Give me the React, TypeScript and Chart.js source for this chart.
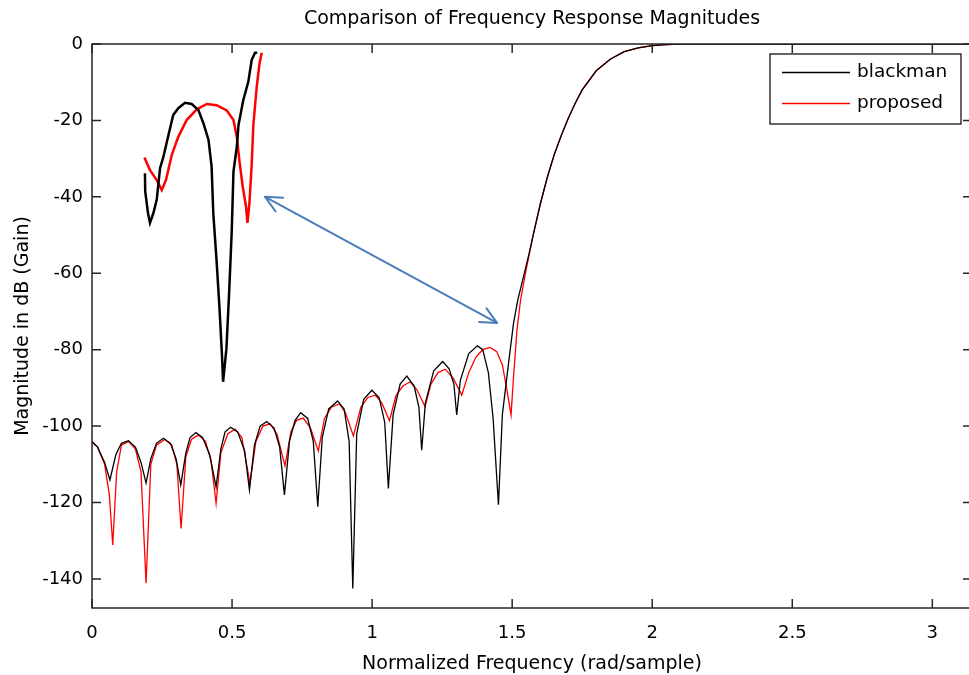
import React, { useEffect, useRef } from 'react';
import { Chart, registerables } from 'chart.js';

Chart.register(...registerables);

const FONT = "'DejaVu Sans', 'Liberation Sans', sans-serif";

const chartTitle = 'Comparison of Frequency Response Magnitudes';
const xAxisTitle = 'Normalized Frequency (rad/sample)';
const yAxisTitle = 'Magnitude in dB (Gain)';

const xTicks = [0, 0.5, 1, 1.5, 2, 2.5, 3];
const yTicks = [0, -20, -40, -60, -80, -100, -120, -140];
const xMin = 0;
const xMax = Math.PI;
const yMin = -147.6;
const yMax = 0;

const legendLabels = ['blackman', 'proposed'];

// Main curve: blackman window
const blackmanX = [
  0, 0.02, 0.045, 0.064, 0.085, 0.105, 0.13, 0.155, 0.175, 0.193, 0.21, 0.23, 0.255,
  0.28, 0.3, 0.317, 0.335, 0.35, 0.371, 0.395, 0.42, 0.443, 0.46, 0.475, 0.495, 0.52,
  0.545, 0.562, 0.58, 0.6, 0.624, 0.65, 0.67, 0.687, 0.705, 0.725, 0.745, 0.77, 0.79,
  0.806, 0.822, 0.845, 0.877, 0.9, 0.918, 0.931, 0.945, 0.97, 0.999, 1.025, 1.045, 1.058,
  1.075, 1.1, 1.124, 1.15, 1.167, 1.177, 1.19, 1.22, 1.252, 1.275, 1.292, 1.302, 1.315,
  1.345, 1.376, 1.395, 1.415, 1.432, 1.451, 1.465, 1.487, 1.505, 1.52, 1.54, 1.56, 1.575,
  1.6, 1.625, 1.65, 1.675, 1.7, 1.725, 1.75, 1.8, 1.85, 1.9, 1.95, 2.0, 2.05, 2.1, 3.1416,
];
const blackmanY = [
  -104.1, -105.5, -109.5, -114.1, -107.5, -104.5, -103.8, -105.5, -109.5, -114.9, -108.5, -104.5, -103.2,
  -104.5, -108.5, -115.4, -107, -103, -101.7, -103, -107.5, -115.9, -106, -101.5, -100.3, -101.5,
  -106.5, -116.7, -105, -100, -98.8, -100.5, -105.5, -118.0, -104, -98.5, -96.5, -98, -104,
  -121.1, -103, -95.5, -93.4, -95.5, -104, -142.5, -102, -93, -90.6, -92.5, -99, -116.3,
  -97, -89, -86.9, -89.5, -95, -106.3, -94, -85.5, -83.1, -85, -89, -97.1, -88,
  -81, -79.0, -80, -86, -98, -120.6, -97, -83.6, -73, -67, -61, -55, -50,
  -42, -35, -29, -24, -19.5, -15.5, -12, -7, -4, -2, -1, -0.4, -0.15, 0, 0,
];

// Main curve: proposed window
const proposedX = [
  0, 0.02, 0.045, 0.062, 0.074, 0.088, 0.105, 0.13, 0.155, 0.175, 0.193, 0.21, 0.23, 0.26,
  0.285, 0.303, 0.318, 0.335, 0.355, 0.38, 0.405, 0.425, 0.443, 0.46, 0.485, 0.511, 0.535,
  0.564, 0.585, 0.61, 0.636, 0.66, 0.689, 0.71, 0.73, 0.754, 0.78, 0.808, 0.83, 0.855,
  0.883, 0.905, 0.933, 0.96, 0.985, 1.011, 1.035, 1.062, 1.085, 1.11, 1.136, 1.16, 1.189,
  1.21, 1.235, 1.261, 1.29, 1.32, 1.345, 1.37, 1.395, 1.421, 1.445, 1.465, 1.48, 1.496,
  1.505, 1.517, 1.53, 1.55, 1.575, 1.6, 1.625, 1.65, 1.675, 1.7, 1.725, 1.75, 1.8, 1.85,
  1.9, 1.95, 2.0, 2.05, 2.1, 3.1416,
];
const proposedY = [
  -104.1, -105.5, -110, -118, -131.1, -112, -105, -104, -106, -112, -141.1, -110, -105, -103.5,
  -105, -110, -126.8, -108, -103.5, -102.3, -104, -109, -120.2, -107, -102, -100.8, -103,
  -115.0, -104, -100, -99.4, -102, -110.4, -101.5, -98.5, -97.9, -100.5, -106.5, -98, -95,
  -94.2, -96.5, -102.6, -95, -92.5, -91.9, -94, -98.6, -92, -89.5, -88.4, -90.5, -94.9,
  -89, -86, -85.1, -87.5, -91.9, -86, -82, -80, -79.4, -80.5, -84, -90, -97.1,
  -87, -74.9, -67, -59, -50, -42, -35, -29, -24, -19.5, -15.5, -12, -7, -4,
  -2, -1, -0.4, -0.15, 0, 0,
];

// Inset (magnified copy of the last side-lobes)
const insetBlackX = [
  0.189, 0.19, 0.2, 0.207, 0.219, 0.231, 0.243, 0.255, 0.273, 0.29, 0.308, 0.332, 0.356,
  0.38, 0.398, 0.416, 0.427, 0.433, 0.445, 0.455, 0.464, 0.468, 0.48, 0.49, 0.499, 0.505,
  0.517, 0.523, 0.54, 0.558, 0.57, 0.582, 0.59,
];
const insetBlackY = [
  -33.8, -38.6, -44.3, -46.8, -44.3, -40.8, -32.5, -29.5, -23.8, -18.6, -16.8, -15.4, -15.7,
  -17.3, -20.8, -25.1, -32.1, -44.3, -57, -69, -81.4, -88.4, -79.6, -64.4, -48.7, -33.4,
  -26.9, -21.2, -14.7, -9.9, -4.2, -2.3, -2.3,
];
const insetRedX = [
  0.187, 0.207, 0.231, 0.249, 0.264, 0.285, 0.308, 0.338, 0.374, 0.41, 0.445, 0.481, 0.505,
  0.517, 0.526, 0.538, 0.55, 0.555, 0.562, 0.57, 0.576, 0.588, 0.598, 0.606,
];
const insetRedY = [
  -29.7, -33.0, -35.6, -38.2, -35.6, -29.0, -24.3, -19.9, -17.1, -15.7, -16.0, -17.4, -19.9,
  -24.3, -30.4, -37.3, -42.6, -46.8, -41.7, -31.7, -21.2, -11.2, -5.1, -2.3,
];

// Double-headed arrow annotation (data coordinates)
const arrowFrom = [0.618, -40.0];
const arrowTo = [1.446, -73.0];

const toPoints = (xs: number[], ys: number[]) => xs.map((x, i) => ({ x, y: ys[i] }));

const overlayPlugin = {
  id: 'overlay',
  afterDatasetsDraw(chart: any) {
    const { ctx, scales } = chart;
    const xs = scales.x;
    const ys = scales.y;
    const x1 = xs.getPixelForValue(arrowFrom[0]);
    const y1 = ys.getPixelForValue(arrowFrom[1]);
    const x2 = xs.getPixelForValue(arrowTo[0]);
    const y2 = ys.getPixelForValue(arrowTo[1]);
    ctx.save();
    ctx.strokeStyle = '#4A7EBB';
    ctx.lineWidth = 2;
    ctx.lineCap = 'round';
    ctx.lineJoin = 'round';
    ctx.beginPath();
    ctx.moveTo(x1, y1);
    ctx.lineTo(x2, y2);
    ctx.stroke();
    const head = (tx: number, ty: number, fx: number, fy: number) => {
      const ang = Math.atan2(ty - fy, tx - fx);
      const len = 18;
      const spread = 0.45;
      ctx.beginPath();
      ctx.moveTo(tx - len * Math.cos(ang - spread), ty - len * Math.sin(ang - spread));
      ctx.lineTo(tx, ty);
      ctx.lineTo(tx - len * Math.cos(ang + spread), ty - len * Math.sin(ang + spread));
      ctx.stroke();
    };
    head(x1, y1, x2, y2);
    head(x2, y2, x1, y1);
    ctx.restore();
  },
  afterDraw(chart: any) {
    const { ctx, chartArea, scales } = chart;
    const { left, right, top, bottom } = chartArea;
    ctx.save();
    // axes box
    ctx.strokeStyle = '#262626';
    ctx.lineWidth = 1.5;
    ctx.strokeRect(left, top, right - left, bottom - top);
    // inward ticks
    const tl = 9;
    ctx.beginPath();
    xTicks.forEach((v) => {
      const px = scales.x.getPixelForValue(v);
      ctx.moveTo(px, bottom);
      ctx.lineTo(px, bottom - tl);
      ctx.moveTo(px, top);
      ctx.lineTo(px, top + tl);
    });
    yTicks.forEach((v) => {
      const py = scales.y.getPixelForValue(v);
      ctx.moveTo(left, py);
      ctx.lineTo(left + tl, py);
      ctx.moveTo(right, py);
      ctx.lineTo(right - tl, py);
    });
    ctx.stroke();

    // legend
    const bw = 191;
    const bh = 70;
    const bx = right - 11 - bw;
    const by = top + 10;
    ctx.fillStyle = '#ffffff';
    ctx.fillRect(bx, by, bw, bh);
    ctx.strokeStyle = '#000000';
    ctx.lineWidth = 1.2;
    ctx.strokeRect(bx, by, bw, bh);
    const colors = [chart.data.datasets[0].borderColor, chart.data.datasets[1].borderColor];
    ctx.font = `18.5px ${FONT}`;
    ctx.textBaseline = 'middle';
    ctx.textAlign = 'left';
    legendLabels.forEach((lab, i) => {
      const ly = by + 18.5 + i * 31;
      ctx.strokeStyle = colors[i];
      ctx.lineWidth = 1.3;
      ctx.beginPath();
      ctx.moveTo(bx + 12, ly);
      ctx.lineTo(bx + 80, ly);
      ctx.stroke();
      ctx.fillStyle = '#000000';
      ctx.fillText(lab, bx + 87, ly);
    });
    ctx.restore();
  },
};

export default function App() {
  const canvasRef = useRef<HTMLCanvasElement | null>(null);

  useEffect(() => {
    if (!canvasRef.current) return;
    const chart = new Chart(canvasRef.current, {
      type: 'line',
      data: {
        datasets: [
          {
            label: legendLabels[0],
            data: toPoints(blackmanX, blackmanY),
            borderColor: '#000000',
            borderWidth: 1.3,
            pointRadius: 0,
            tension: 0,
          },
          {
            label: legendLabels[1],
            data: toPoints(proposedX, proposedY),
            borderColor: '#ff0000',
            borderWidth: 1.3,
            pointRadius: 0,
            tension: 0,
          },
          {
            label: 'inset blackman',
            data: toPoints(insetBlackX, insetBlackY),
            borderColor: '#000000',
            borderWidth: 2.5,
            pointRadius: 0,
            tension: 0,
          },
          {
            label: 'inset proposed',
            data: toPoints(insetRedX, insetRedY),
            borderColor: '#ff0000',
            borderWidth: 2.5,
            pointRadius: 0,
            tension: 0,
          },
        ],
      },
      options: {
        animation: false,
        responsive: true,
        maintainAspectRatio: false,
        layout: { padding: 0 },
        plugins: {
          legend: { display: false },
          tooltip: { enabled: false },
          title: {
            display: true,
            text: chartTitle,
            fullSize: false,
            color: '#000000',
            font: { family: FONT, size: 19, weight: 'normal', lineHeight: 1.2 },
            padding: { top: 8, bottom: 13.2 },
          },
        },
        scales: {
          x: {
            type: 'linear',
            min: xMin,
            max: xMax,
            afterBuildTicks: (s: any) => {
              s.ticks = xTicks.map((v) => ({ value: v }));
            },
            afterFit: (s: any) => {
              s.height = 67;
            },
            grid: { display: false, drawTicks: false },
            border: { display: false },
            ticks: {
              color: '#000000',
              padding: 15,
              maxRotation: 0,
              autoSkip: false,
              font: { family: FONT, size: 18, lineHeight: 1.2 },
              callback: (v: any) => String(v),
            },
            title: {
              display: true,
              text: xAxisTitle,
              color: '#000000',
              font: { family: FONT, size: 19, lineHeight: 1.2 },
              padding: { top: 8.6, bottom: 0 },
            },
          },
          y: {
            type: 'linear',
            min: yMin,
            max: yMax,
            afterBuildTicks: (s: any) => {
              s.ticks = yTicks.map((v) => ({ value: v }));
            },
            afterFit: (s: any) => {
              s.width = 92;
            },
            grid: { display: false, drawTicks: false },
            border: { display: false },
            ticks: {
              color: '#000000',
              padding: 9,
              autoSkip: false,
              font: { family: FONT, size: 18, lineHeight: 1.2 },
              callback: (v: any) => String(v),
            },
            title: {
              display: true,
              text: yAxisTitle,
              color: '#000000',
              font: { family: FONT, size: 19, lineHeight: 1.2 },
              padding: { top: 12, bottom: 0 },
            },
          },
        },
      },
      plugins: [overlayPlugin],
    });
    return () => chart.destroy();
  }, []);

  return (
    <div style={{ position: 'absolute', left: 0, top: 0, width: 969, height: 675, overflow: 'hidden', background: '#fff' }}>
      <div style={{ position: 'relative', width: 972, height: 675 }}>
        <canvas ref={canvasRef} />
      </div>
    </div>
  );
}
